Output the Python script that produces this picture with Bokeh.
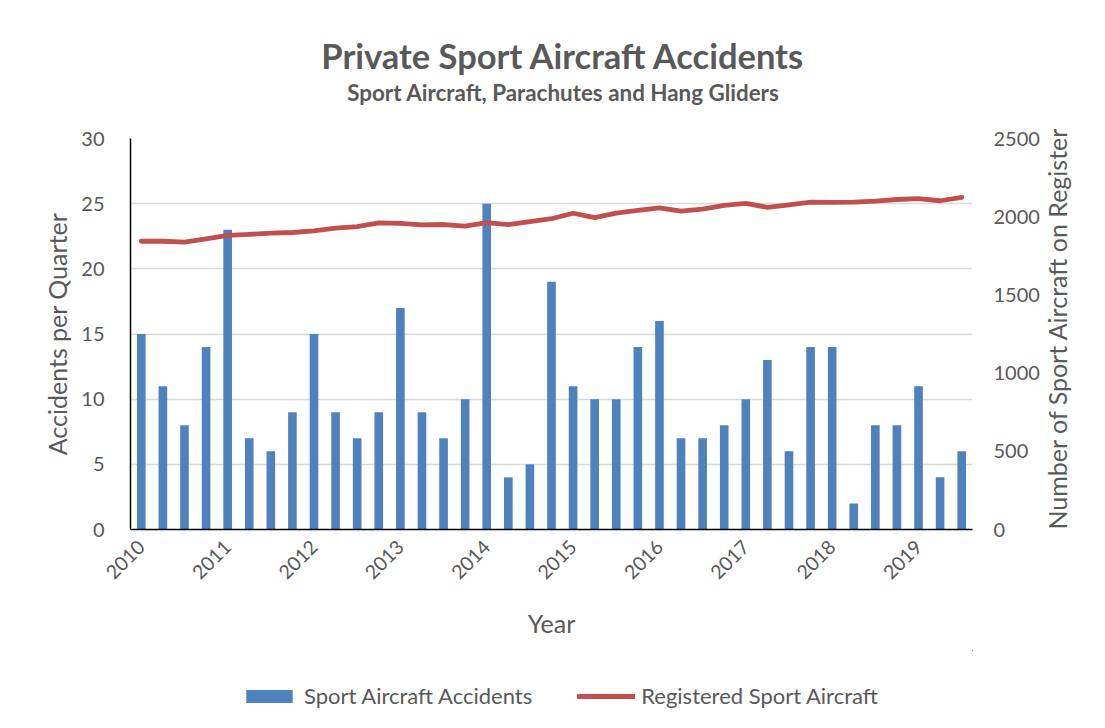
import numpy as np
from bokeh.plotting import figure
from bokeh.layouts import column
from bokeh.models import (ColumnDataSource, Range1d, LinearAxis, FixedTicker,
                          Legend, LegendItem, Label)
from bokeh.embed import file_html
from bokeh.resources import INLINE

# ---------------- data ----------------
years = ["2010", "2011", "2012", "2013", "2014", "2015", "2016", "2017", "2018", "2019"]
quarters = [f"{y} Q{q}" for y in years for q in (1, 2, 3, 4)][:39]

accidents = [15, 11, 8, 14, 23, 7, 6, 9, 15, 9, 7, 9, 17, 9, 7, 10, 25, 4, 5, 19,
             11, 10, 10, 14, 16, 7, 7, 8, 10, 13, 6, 14, 14, 2, 8, 8, 11, 4, 6]

registered = [1843, 1843, 1838, 1859, 1880, 1887, 1895, 1899, 1910, 1927,
              1937, 1960, 1957, 1948, 1950, 1940, 1962, 1950, 1968, 1987,
              2022, 1994, 2023, 2040, 2056, 2035, 2049, 2072, 2085, 2060,
              2075, 2093, 2091, 2093, 2099, 2110, 2116, 2102, 2124]

left_ticks = [0, 5, 10, 15, 20, 25, 30]
right_ticks = [0, 500, 1000, 1500, 2000, 2500]

title_text = "Private Sport Aircraft Accidents"
subtitle_text = "Sport Aircraft, Parachutes and Hang Gliders"

FONT = "Lato"
TXT = "#595959"
BLUE = "#4f81bd"
RED = "#c0504d"

idx = list(range(len(accidents)))
src = ColumnDataSource(dict(x=idx, q=quarters, acc=accidents, reg=registered))
xr = Range1d(-0.5, len(accidents) - 0.5)

ML, MR, FW = 130, 125, 842
W = ML + FW + MR

# ---------------- title strip ----------------
TH = 110
tf = figure(width=W, height=TH, output_backend="svg", toolbar_location=None,
            x_range=xr, y_range=Range1d(0, TH), min_border=0,
            x_axis_type=None, y_axis_type=None)
tf.grid.visible = False
tf.outline_line_color = None
tf.border_fill_color = "white"
xmid = (len(accidents) - 1) / 2 + 0.55
tf.add_layout(Label(x=xmid, y=TH - 55, text=title_text, text_align="center",
                    text_baseline="middle", text_font=FONT, text_font_size="34.5px",
                    text_font_style="bold", text_color=TXT))
tf.add_layout(Label(x=xmid, y=TH - 92, text=subtitle_text, text_align="center",
                    text_baseline="middle", text_font=FONT, text_font_size="22.4px",
                    text_font_style="bold", text_color=TXT))

# ---------------- main chart ----------------
p = figure(frame_width=FW, frame_height=391, output_backend="svg", toolbar_location=None,
           x_range=xr, y_range=Range1d(0, 30),
           min_border_left=ML, min_border_right=MR, min_border_top=138 - TH,
           min_border_bottom=121)
p.extra_y_ranges = {"reg": Range1d(0, 2500)}
p.background_fill_color = "white"
p.border_fill_color = "white"
p.outline_line_color = None

bars = p.vbar(x="x", top="acc", width=0.4, source=src, fill_color=BLUE, line_color=None)
line = p.line(x="x", y="reg", source=src, y_range_name="reg", line_color=RED,
              line_width=4.8, line_join="round", line_cap="round")

p.xgrid.grid_line_color = None
p.ygrid.grid_line_color = "#d9d9d9"
p.ygrid.grid_line_width = 1.3
p.ygrid.ticker = FixedTicker(ticks=left_ticks)

yax = p.yaxis[0]
yax.ticker = FixedTicker(ticks=left_ticks)
yax.axis_label = "Accidents per Quarter"

xax = p.xaxis[0]
xax.ticker = FixedTicker(ticks=[i * 4 for i in range(len(years))])
xax.major_label_overrides = {i * 4: y for i, y in enumerate(years)}
xax.major_label_orientation = np.pi / 4
xax.axis_label = "Year"

rax = LinearAxis(y_range_name="reg", ticker=FixedTicker(ticks=right_ticks),
                 axis_label="Number of Sport Aircraft on Register")
p.add_layout(rax, "right")
rax.axis_label_orientation = np.pi / 2
try:
    rax.axis_label_align = "start"
except Exception:
    pass

for ax in [xax, yax, rax]:
    ax.major_tick_line_color = None
    ax.minor_tick_line_color = None
    ax.major_label_text_font = FONT
    ax.major_label_text_color = TXT
    ax.major_label_text_font_size = "20px"
    ax.axis_label_text_font = FONT
    ax.axis_label_text_color = TXT
    ax.axis_label_text_font_size = "25px"
    ax.axis_label_text_font_style = "normal"
xax.axis_line_color = "black"
xax.axis_line_width = 1.5
yax.axis_line_color = "black"
yax.axis_line_width = 1.5
rax.axis_line_color = None
xax.major_label_text_font_size = "19.5px"
xax.major_label_standoff = 8
xax.axis_label_standoff = 20
yax.major_label_standoff = 20
yax.axis_label_standoff = 6
rax.major_label_standoff = 15
rax.axis_label_standoff = 14

# ---------------- legend strip ----------------
# legend samples use the same styled glyphs; the strip's ranges keep the data out of view
lg = figure(width=W, height=70, output_backend="svg", toolbar_location=None,
            x_range=Range1d(-200, -199), y_range=Range1d(-200, -199), min_border=0,
            x_axis_type=None, y_axis_type=None)
lg.grid.visible = False
lg.outline_line_color = None
lg.border_fill_color = "white"
lb = lg.vbar(x="x", top="acc", width=0.4, source=src, fill_color=BLUE, line_color=None)
ll = lg.line(x="x", y="reg", source=src, line_color=RED, line_width=4.8, line_cap="round")
legend = Legend(items=[LegendItem(label="Sport Aircraft Accidents", renderers=[lb]),
                       LegendItem(label="Registered Sport Aircraft", renderers=[ll])],
                orientation="horizontal", location=(110, 11),
                label_text_font=FONT, label_text_color=TXT, label_text_font_size="22px",
                glyph_width=58, glyph_height=16, label_standoff=6, spacing=45,
                padding=5, margin=0,
                border_line_color=None, background_fill_alpha=0)
lg.add_layout(legend)

open("out.html", "w").write(file_html(column(tf, p, lg), INLINE))
